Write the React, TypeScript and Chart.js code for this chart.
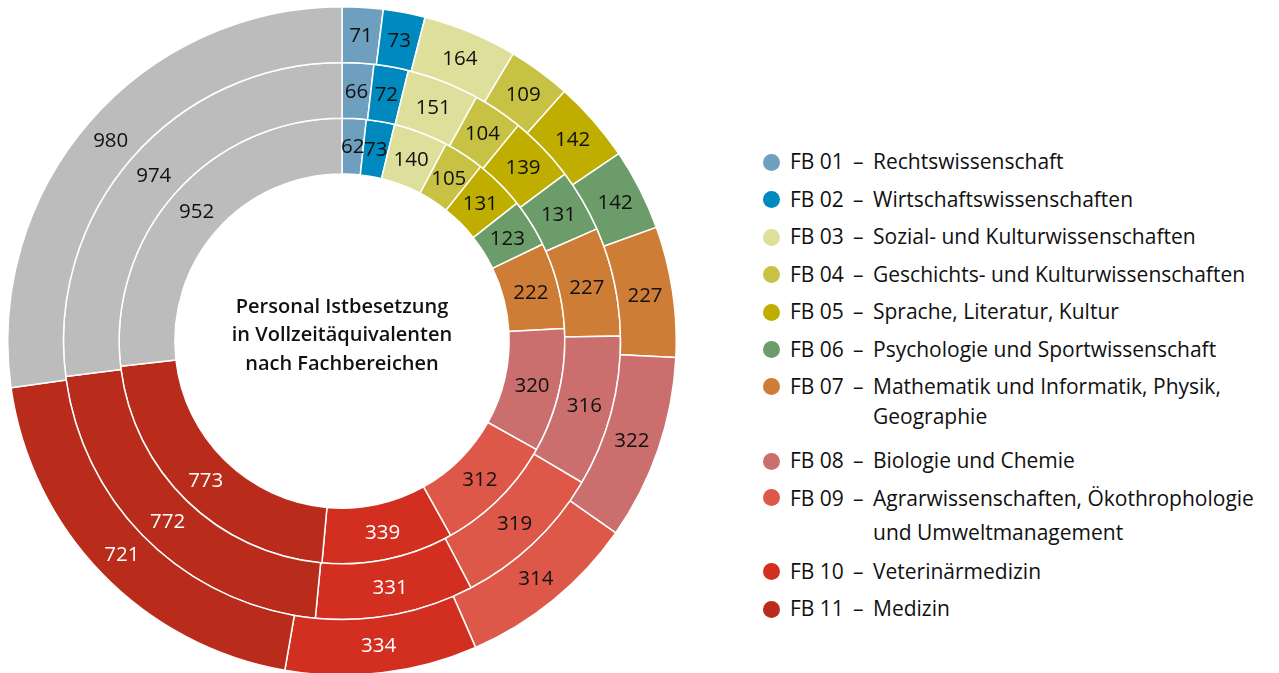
import React, { useEffect, useRef } from "react";
import { Chart, registerables } from "chart.js";

Chart.register(...registerables);

const categories = ["FB 01", "FB 02", "FB 03", "FB 04", "FB 05", "FB 06", "FB 07", "FB 08", "FB 09", "FB 10", "FB 11", "Sonstige"];
const categoryNames = [
  "Rechtswissenschaft",
  "Wirtschaftswissenschaften",
  "Sozial- und Kulturwissenschaften",
  "Geschichts- und Kulturwissenschaften",
  "Sprache, Literatur, Kultur",
  "Psychologie und Sportwissenschaft",
  "Mathematik und Informatik, Physik,\nGeographie",
  "Biologie und Chemie",
  "Agrarwissenschaften, Ökothrophologie\nund Umweltmanagement",
  "Veterinärmedizin",
  "Medizin",
  "Sonstige",
];
const outerValues = [71, 73, 164, 109, 142, 142, 227, 322, 314, 334, 721, 980];
const middleValues = [66, 72, 151, 104, 139, 131, 227, 316, 319, 331, 772, 974];
const innerValues = [62, 73, 140, 105, 131, 123, 222, 320, 312, 339, 773, 952];
const colors = ["#6e9fbf", "#0089bf", "#dfdf9c", "#c8c244", "#bfae00", "#6c9c6a", "#ce7d36", "#cb6e6e", "#dd5849", "#d32f20", "#b92b1a", "#bbbcbb"];
const valueLabelColors = ["#111111", "#111111", "#111111", "#111111", "#111111", "#111111", "#111111", "#111111", "#111111", "#ffffff", "#ffffff", "#111111"];
const centerTitle = ["Personal Istbesetzung", "in Vollzeitäquivalenten", "nach Fachbereichen"];

const FONT = "'Open Sans', 'Noto Sans', sans-serif";

const valueLabelPlugin = {
  id: "valueLabels",
  afterDatasetsDraw(chart: any) {
    const ctx = chart.ctx;
    ctx.save();
    ctx.font = `20.5px ${FONT}`;
    ctx.textAlign = "center";
    ctx.textBaseline = "middle";
    chart.data.datasets.forEach((ds: any, di: number) => {
      const meta = chart.getDatasetMeta(di);
      meta.data.forEach((arc: any, i: number) => {
        const p = arc.tooltipPosition();
        ctx.fillStyle = valueLabelColors[i];
        ctx.fillText(String(ds.data[i]), p.x, p.y + 1);
      });
    });
    ctx.restore();
  },
};

// legend row layout (line-height / spacing per entry)
const legendLineHeights = [37.5, 37.5, 37.5, 37.5, 37.5, 37.5, 30, 37.5, 34, 37.5, 37.5];
const legendMarginsTop = [0, 0, 0, 0, 0, 0, 3, 11, 1, 4, 0];

export default function App() {
  const canvasRef = useRef<HTMLCanvasElement | null>(null);

  useEffect(() => {
    const canvas = canvasRef.current;
    if (!canvas) return;
    const chart = new Chart(canvas, {
      type: "doughnut",
      data: {
        labels: categories,
        datasets: [
          { label: "Außen", data: outerValues, backgroundColor: colors, borderColor: "#ffffff", borderWidth: 1.5 },
          { label: "Mitte", data: middleValues, backgroundColor: colors, borderColor: "#ffffff", borderWidth: 1.5 },
          { label: "Innen", data: innerValues, backgroundColor: colors, borderColor: "#ffffff", borderWidth: 1.5 },
        ],
      },
      options: {
        responsive: false,
        animation: false,
        cutout: "50%",
        layout: { padding: 0 },
        plugins: {
          legend: { display: false },
          tooltip: { enabled: false },
        },
      },
      plugins: [valueLabelPlugin],
    });
    return () => chart.destroy();
  }, []);

  return (
    <div style={{ position: "absolute", left: 0, top: 0, width: 1279, height: 673, background: "#fff", fontFamily: FONT, color: "#111111", overflow: "hidden" }}>
      <canvas ref={canvasRef} width={670} height={670} style={{ position: "absolute", left: 7, top: 6, width: 670, height: 670 }} />
      <div style={{ position: "absolute", left: 192, width: 300, top: 291.5, textAlign: "center", fontSize: 20, fontWeight: 600, lineHeight: "28.5px" }}>
        {centerTitle.map((t, i) => (
          <div key={i}>{t}</div>
        ))}
      </div>
      <div style={{ position: "absolute", left: 763, top: 143.25, fontSize: 21 }}>
        {categories.slice(0, 11).map((c, i) => (
          <div key={c} style={{ position: "relative", paddingLeft: 110, lineHeight: `${legendLineHeights[i]}px`, marginTop: legendMarginsTop[i], whiteSpace: "pre-line" }}>
            <span style={{ position: "absolute", left: 0, top: legendLineHeights[i] / 2 - 8.5, width: 17, height: 17, borderRadius: "50%", background: colors[i] }} />
            <span style={{ position: "absolute", left: 27, top: 0 }}>{c}</span>
            <span style={{ position: "absolute", left: 90, top: 0 }}>–</span>
            {categoryNames[i]}
          </div>
        ))}
      </div>
    </div>
  );
}
